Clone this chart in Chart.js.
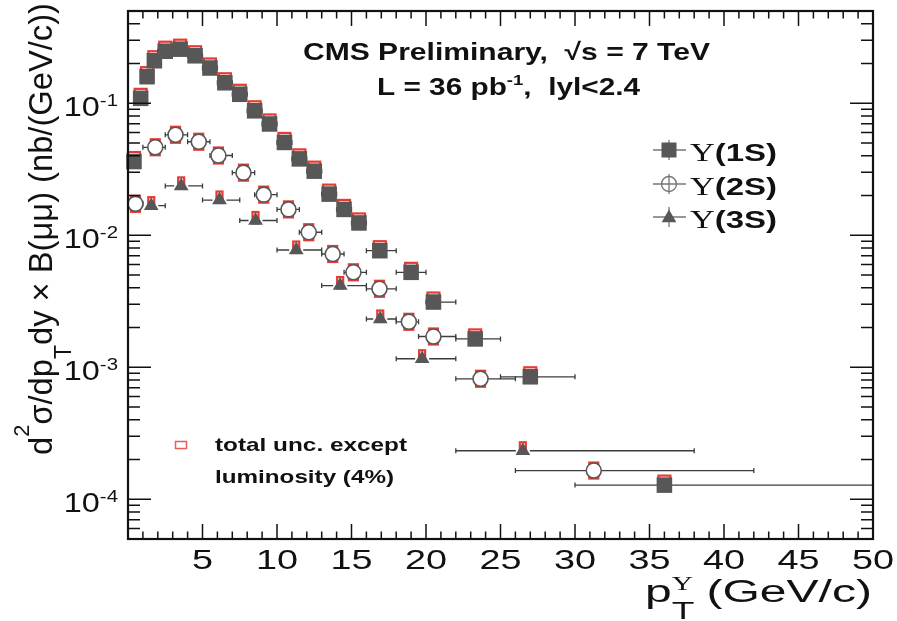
<!DOCTYPE html>
<html>
<head>
<meta charset="utf-8">
<script src="https://cdn.jsdelivr.net/npm/chart.js@4.4.0/dist/chart.umd.min.js"></script>
<style>
  html, body { margin: 0; padding: 0; background: #fff; }
  canvas { display: block; }
</style>
</head>
<body>
<canvas id="xsec" width="897" height="621"></canvas>
<script>
// Upsilon(nS) -> mu mu differential cross sections vs pT, |y| < 2.4
const pt1S = [0.4, 0.85, 1.28, 1.77, 2.5, 3.5, 4.5, 5.5, 6.5, 7.5, 8.5, 9.5, 10.5, 11.5, 12.5, 13.5, 14.5, 15.5, 16.9, 19.0, 20.5, 23.3, 27.0, 36.0];
const xs1S = [0.0362, 0.109, 0.159, 0.21, 0.248, 0.257, 0.229, 0.185, 0.143, 0.117, 0.0877, 0.0697, 0.0505, 0.0379, 0.0306, 0.0205, 0.0157, 0.0124, 0.00764, 0.00524, 0.00312, 0.00164, 0.000847, 0.000128];
const ptLo1S = [0, 0.5, 1, 1.5, 2, 3, 4, 5, 6, 7, 8, 9, 10, 11, 12, 13, 14, 15, 16, 18, 20, 22, 25, 30];
const ptHi1S = [0.5, 1, 1.5, 2, 3, 4, 5, 6, 7, 8, 9, 10, 11, 12, 13, 14, 15, 16, 18, 20, 22, 25, 30, 50];

const pt2S = [0.5, 1.83, 3.19, 4.75, 6.07, 7.75, 9.11, 10.77, 12.13, 13.74, 15.13, 16.88, 18.85, 20.5, 23.66, 31.26];
const xs2S = [0.0173, 0.0464, 0.0577, 0.0511, 0.0402, 0.0298, 0.0203, 0.0157, 0.01054, 0.00721, 0.00524, 0.00393, 0.00221, 0.00171, 0.000818, 0.000165];
const ptLo2S = [0, 1, 2.5, 4, 5.5, 7, 8.5, 10, 11.5, 13, 14.5, 16, 18, 19.5, 22, 26];
const ptHi2S = [1, 2.5, 4, 5.5, 7, 8.5, 10, 11.5, 13, 14.5, 16, 18, 19.5, 22, 26, 42];

const pt3S = [1.56, 3.57, 6.14, 8.56, 11.29, 14.24, 16.93, 19.74, 26.5];
const xs3S = [0.01675, 0.02366, 0.01849, 0.01294, 0.00773, 0.00416, 0.00232, 0.00116, 0.000233];
const ptLo3S = [1.2, 2.5, 5, 7.5, 10, 13, 16, 18, 22];
const ptHi3S = [2.5, 5, 7.5, 10, 13, 16, 18, 22, 38];

// relative syst. (total except lumi), up / down, per state
const sysUp = [0.18, 0.15, 0.16];
const sysDn = [0.07, 0.13, 0.05];

const states = ['1S', '2S', '3S'];
const xTickLabels = [5, 10, 15, 20, 25, 30, 35, 40, 45, 50];
const yDecades = [-1, -2, -3, -4];

const SANS = '"Liberation Sans", Arial, Helvetica, sans-serif';
const SERIF = '"Liberation Serif", "Times New Roman", serif';
const GREY = '#575757';
const RED = '#e63a33';

const series = [
  { pt: pt1S, xs: xs1S, lo: ptLo1S, hi: ptHi1S, boxHalf: 6 },
  { pt: pt2S, xs: xs2S, lo: ptLo2S, hi: ptHi2S, boxHalf: 4.5 },
  { pt: pt3S, xs: xs3S, lo: ptLo3S, hi: ptHi3S, boxHalf: 3 }
];

function toPoints(s) {
  return s.pt.map((x, i) => ({ x: x, y: s.xs[i] }));
}

// text made of runs (sub/superscripts), optionally stretched to a given width
function runsWidth(ctx, runs) {
  let w = 0;
  for (const r of runs) {
    ctx.font = r.font;
    if (!r.hold) w += ctx.measureText(r.text).width;
  }
  return w;
}

function drawRuns(ctx, runs, x, y, o) {
  o = o || {};
  ctx.save();
  ctx.translate(x, y);
  if (o.rot) ctx.rotate(o.rot);
  const w = runsWidth(ctx, runs);
  let sx = o.sx || 1;
  if (o.width) sx = o.width / w;
  ctx.scale(sx, o.sy || 1);
  let cx = 0;
  if (o.align === 'right') cx = -w;
  else if (o.align === 'center') cx = -w / 2;
  ctx.textAlign = 'left';
  ctx.textBaseline = 'alphabetic';
  ctx.fillStyle = o.color || '#111';
  for (const r of runs) {
    ctx.font = r.font;
    ctx.fillText(r.text, cx, r.dy || 0);
    if (!r.hold) cx += ctx.measureText(r.text).width;
  }
  ctx.restore();
}

function triangle(ctx, x, y, r) {
  ctx.beginPath();
  ctx.moveTo(x, y - r);
  ctx.lineTo(x + 0.866 * r, y + 0.5 * r);
  ctx.lineTo(x - 0.866 * r, y + 0.5 * r);
  ctx.closePath();
}

// error bars and red syst boxes underneath the markers
const errorBars = {
  id: 'errorBars',
  beforeDatasetsDraw(chart) {
    const ctx = chart.ctx, xsc = chart.scales.x, ysc = chart.scales.y;
    ctx.save();
    series.forEach((s, k) => {
      for (let i = 0; i < s.pt.length; i++) {
        const px = xsc.getPixelForValue(s.pt[i]);
        const py = ysc.getPixelForValue(s.xs[i]);
        const l = xsc.getPixelForValue(s.lo[i]);
        const r = xsc.getPixelForValue(s.hi[i]);
        ctx.strokeStyle = '#3c3c3c';
        ctx.lineWidth = 1.3;
        ctx.beginPath();
        if (l < px - 7) {
          ctx.moveTo(l, py); ctx.lineTo(px - 7, py);
          ctx.moveTo(l, py - 2.5); ctx.lineTo(l, py + 2.5);
        }
        if (r > px + 7) {
          ctx.moveTo(px + 7, py); ctx.lineTo(r, py);
          ctx.moveTo(r, py - 2.5); ctx.lineTo(r, py + 2.5);
        }
        ctx.stroke();

        const top = ysc.getPixelForValue(s.xs[i] * (1 + sysUp[k]));
        const bot = ysc.getPixelForValue(s.xs[i] * (1 - sysDn[k]));
        ctx.strokeStyle = RED;
        ctx.lineWidth = 2.2;
        ctx.strokeRect(px - s.boxHalf, top, 2 * s.boxHalf, bot - top);
      }
    });
    ctx.restore();
  }
};

// frame, inward ticks, labels, titles and legends
const rootFrame = {
  id: 'rootFrame',
  afterDraw(chart) {
    const ctx = chart.ctx, xsc = chart.scales.x, ysc = chart.scales.y;
    const a = chart.chartArea;
    ctx.save();
    ctx.strokeStyle = '#111';

    ctx.lineWidth = 1.5;
    ctx.beginPath();
    for (let v = 0; v <= 50; v++) {
      const px = xsc.getPixelForValue(v);
      const len = v % 5 === 0 ? 15 : 7.5;
      ctx.moveTo(px, a.bottom); ctx.lineTo(px, a.bottom - len);
      ctx.moveTo(px, a.top); ctx.lineTo(px, a.top + len);
    }
    for (let d = -5; d <= -1; d++) {
      for (let m = 1; m <= 9; m++) {
        const v = m * Math.pow(10, d);
        if (v < ysc.min || v > ysc.max) continue;
        const py = ysc.getPixelForValue(v);
        const len = m === 1 ? 23 : 12;
        ctx.moveTo(a.left, py); ctx.lineTo(a.left + len, py);
        ctx.moveTo(a.right, py); ctx.lineTo(a.right - len, py);
      }
    }
    ctx.stroke();

    ctx.lineWidth = 2.2;
    ctx.strokeRect(a.left, a.top, a.right - a.left, a.bottom - a.top);

    // tick labels
    xTickLabels.forEach(v => {
      drawRuns(ctx, [{ text: String(v), font: '28px ' + SANS }],
        xsc.getPixelForValue(v), 569, { align: 'center', sx: 1.35 });
    });
    yDecades.forEach(d => {
      const py = ysc.getPixelForValue(Math.pow(10, d));
      drawRuns(ctx, [
        { text: '10', font: '27px ' + SANS },
        { text: '-' + (-d), font: '17px ' + SANS, dy: -10 }
      ], 118, py + 13, { align: 'right', sx: 1.2 });
    });

    // axis titles
    drawRuns(ctx, [
      { text: 'd', font: '30px ' + SANS },
      { text: '2', font: '20px ' + SANS, dy: -21 },
      { text: '\u03C3/dp', font: '30px ' + SANS },
      { text: 'T', font: '21px ' + SANS, dy: 17 },
      { text: 'dy \u00D7 B(\u03BC\u03BC) (nb/(GeV/c))', font: '30px ' + SANS }
    ], 52, 455, { rot: -Math.PI / 2, width: 452, sy: 1.1 });

    drawRuns(ctx, [
      { text: 'p', font: '31px ' + SANS },
      { text: 'T', font: '24px ' + SANS, dy: 17, hold: true },
      { text: '\u03A5', font: '19px ' + SERIF, dy: -12 },
      { text: ' (GeV/c)', font: '31px ' + SANS }
    ], 645, 602, { width: 227 });

    // header text
    drawRuns(ctx, [{ text: 'CMS Preliminary,  \u221As = 7 TeV', font: 'bold 24px ' + SANS }],
      303, 60, { width: 407 });
    drawRuns(ctx, [
      { text: 'L = 36 pb', font: 'bold 24px ' + SANS },
      { text: '-1', font: 'bold 15px ' + SANS, dy: -10 },
      { text: ',  lyl<2.4', font: 'bold 24px ' + SANS }
    ], 377, 95, { width: 263 });

    // state legend
    const legY = [150, 184, 217];
    legY.forEach((y, k) => {
      const x = 669;
      ctx.strokeStyle = '#777';
      ctx.lineWidth = 1.3;
      ctx.beginPath();
      ctx.moveTo(653, y); ctx.lineTo(686, y);
      ctx.moveTo(x, y - 10); ctx.lineTo(x, y + 10);
      ctx.stroke();
      if (k === 0) {
        ctx.fillStyle = GREY;
        ctx.fillRect(x - 7.5, y - 7.5, 15, 15);
      } else if (k === 1) {
        ctx.strokeStyle = '#777';
        ctx.lineWidth = 1.4;
        ctx.beginPath();
        ctx.arc(x, y, 7.5, 0, Math.PI * 2);
        ctx.stroke();
      } else {
        ctx.fillStyle = GREY;
        triangle(ctx, x, y + 1, 8.5);
        ctx.fill();
      }
      drawRuns(ctx, [
        { text: '\u03A5', font: '25px ' + SERIF },
        { text: '(' + states[k] + ')', font: 'bold 24px ' + SANS }
      ], 690, y + 11, { width: 87 });
    });

    // syst box legend
    ctx.strokeStyle = '#ee5a5a';
    ctx.lineWidth = 1.5;
    ctx.strokeRect(175.5, 441.5, 11, 7);
    drawRuns(ctx, [{ text: 'total unc. except', font: 'bold 19px ' + SANS }], 215, 451, { width: 192 });
    drawRuns(ctx, [{ text: 'luminosity (4%)', font: 'bold 19px ' + SANS }], 215, 483, { width: 179 });

    ctx.restore();
  }
};

new Chart(document.getElementById('xsec'), {
  type: 'scatter',
  data: {
    datasets: [
      {
        label: '\u03A5(1S)', data: toPoints(series[0]),
        pointStyle: 'rect', pointRadius: 11, pointHoverRadius: 11,
        backgroundColor: GREY, borderColor: GREY, borderWidth: 0, clip: false
      },
      {
        label: '\u03A5(2S)', data: toPoints(series[1]),
        pointStyle: 'circle', pointRadius: 7.5, pointHoverRadius: 7.5,
        backgroundColor: '#fff', borderColor: GREY, borderWidth: 1.6, clip: false
      },
      {
        label: '\u03A5(3S)', data: toPoints(series[2]),
        pointStyle: 'triangle', pointRadius: 8.5, pointHoverRadius: 8.5,
        backgroundColor: GREY, borderColor: GREY, borderWidth: 0, clip: false
      }
    ]
  },
  options: {
    responsive: false,
    animation: false,
    devicePixelRatio: 1,
    layout: { padding: { left: 128, top: 4, right: 24, bottom: 82 } },
    plugins: { legend: { display: false }, tooltip: { enabled: false } },
    scales: {
      x: { type: 'linear', min: 0, max: 50, display: false },
      y: { type: 'logarithmic', min: 5e-5, max: 0.5, display: false }
    }
  },
  plugins: [errorBars, rootFrame]
});
</script>
</body>
</html>
